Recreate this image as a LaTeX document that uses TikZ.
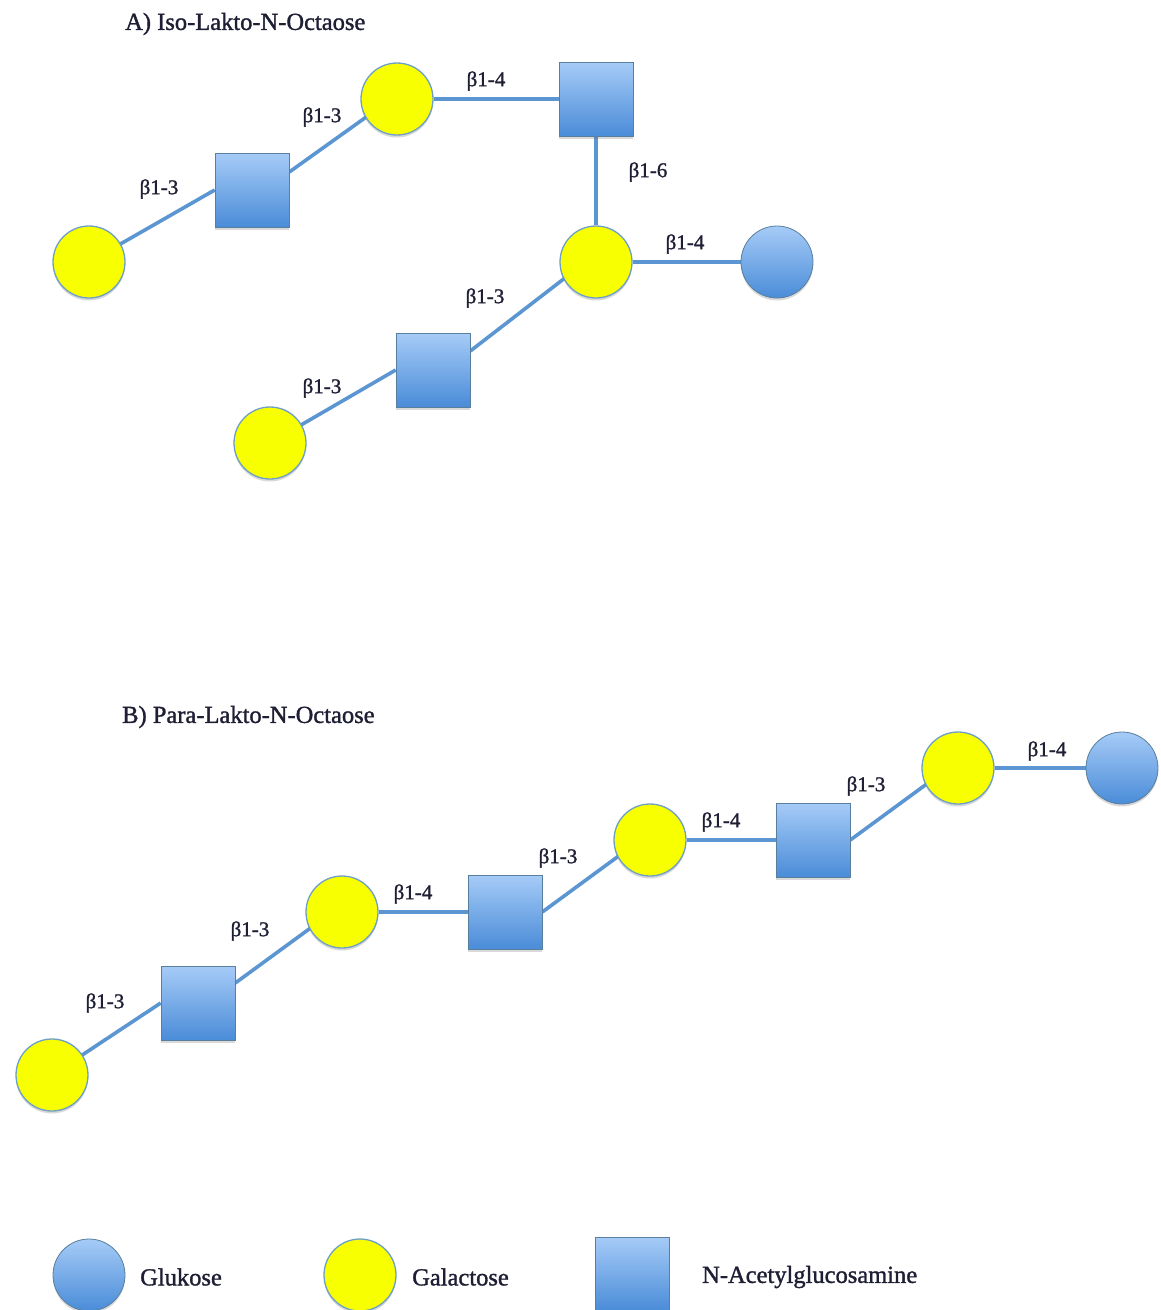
\documentclass[tikz,border=0pt]{standalone}
\usepackage{fontspec}
\setmainfont{Liberation Serif}
\newfontfamily\lblfont[FakeBold=1.3]{Liberation Serif}
\usetikzlibrary{shadows,calc}
\pgfdeclarelayer{links}
\pgfsetlayers{links,main}
\definecolor{linkblue}{HTML}{5B96D2}
\definecolor{glctop}{HTML}{A6CBF7}
\definecolor{glcbot}{HTML}{4A8CD8}
\definecolor{galfill}{HTML}{F7FF00}
\definecolor{rimcol}{HTML}{6E9FC6}
\definecolor{txt}{HTML}{1E1E34}
\tikzset{
  link/.style={draw=linkblue, line width=3.6pt},
  softshadow/.style={drop shadow={shadow xshift=0pt, shadow yshift=-2.5pt, opacity=0.25, fill=black!60}},
  gal/.style={circle, minimum size=72pt, inner sep=0pt, fill=galfill, draw=rimcol, line width=1.3pt, softshadow},
  glc/.style={circle, minimum size=72pt, inner sep=0pt, top color=glctop, bottom color=glcbot, draw=rimcol!80!black, line width=0.8pt, softshadow},
  glcnac/.style={rectangle, minimum size=74pt, inner sep=0pt, top color=glctop, bottom color=glcbot, draw=rimcol!80!black, line width=0.6pt, softshadow},
  bond/.style={font=\lblfont\fontsize{21}{24}\selectfont, text=txt, inner sep=0pt},
  heading/.style={font=\lblfont\fontsize{24.5}{28}\selectfont, text=txt, anchor=west, inner sep=0pt},
  legendtext/.style={font=\lblfont\fontsize{24.5}{28}\selectfont, text=txt, anchor=west, inner sep=0pt},
}
\begin{document}
\begin{tikzpicture}[x=1pt, y=-1pt]
\useasboundingbox (0,0) rectangle (1161,1310);
\clip (0,0) rectangle (1161,1310);

% ---------- A) Iso-Lakto-N-Octaose ----------
\node[heading] (titleA) at (125,24) {A) Iso-Lakto-N-Octaose};

\node[gal]    (a1) at (89,262)  {};
\node[glcnac] (a2) at (252,190) {};
\node[gal]    (a3) at (397,99)  {};
\node[glcnac] (a4) at (596,99)  {};
\node[gal]    (a5) at (596,262) {};
\node[glc]    (a6) at (777,262) {};
\node[glcnac] (a7) at (433,370) {};
\node[gal]    (a8) at (270,443) {};

\begin{pgfonlayer}{links}
  \draw[link] (a1.center) -- (a2.west);
  \draw[link] ($(a2.east)+(0,-18)$) -- ($(a3.center)+(0,-4)$);
  \draw[link] (a3) -- (a4);
  \draw[link] (a4) -- (a5);
  \draw[link] (a5) -- (a6);
  \draw[link] ($(a7.east)+(0,-19)$) -- ($(a5.center)+(0,-8)$);
  \draw[link] (a8.center) -- (a7.west);
\end{pgfonlayer}

\node[bond] (la1) at (159,189) {β1-3};
\node[bond] (la2) at (322,117) {β1-3};
\node[bond] (la3) at (486,81)  {β1-4};
\node[bond] (la4) at (648,172) {β1-6};
\node[bond] (la5) at (685,244) {β1-4};
\node[bond] (la6) at (485,298) {β1-3};
\node[bond] (la7) at (322,388) {β1-3};

% ---------- B) Para-Lakto-N-Octaose ----------
\node[heading] (titleB) at (122,717) {B) Para-Lakto-N-Octaose};

\node[gal]    (b1) at (52,1075)  {};
\node[glcnac] (b2) at (198,1003) {};
\node[gal]    (b3) at (342,912)  {};
\node[glcnac] (b4) at (505,912)  {};
\node[gal]    (b5) at (650,840)  {};
\node[glcnac] (b6) at (813,840)  {};
\node[gal]    (b7) at (958,768)  {};
\node[glc]    (b8) at (1122,768) {};

\begin{pgfonlayer}{links}
  \draw[link] (b1.center) -- (b2.west);
  \draw[link] ($(b2.east)+(0,-20)$) -- ($(b3.center)+(0,-7)$);
  \draw[link] (b3) -- (b4);
  \draw[link] (b4.east) -- ($(b5.center)+(0,-7)$);
  \draw[link] (b5) -- (b6);
  \draw[link] (b6.east) -- ($(b7.center)+(0,-7)$);
  \draw[link] (b7) -- (b8);
\end{pgfonlayer}

\node[bond] (lb1) at (105,1003) {β1-3};
\node[bond] (lb2) at (250,931)  {β1-3};
\node[bond] (lb3) at (413,894)  {β1-4};
\node[bond] (lb4) at (558,858)  {β1-3};
\node[bond] (lb5) at (721,822)  {β1-4};
\node[bond] (lb6) at (866,786)  {β1-3};
\node[bond] (lb7) at (1047,751) {β1-4};

% ---------- legend ----------
\node[glc]    (lg1) at (89,1275)  {};
\node[legendtext] (lt1) at (140,1277) {Glukose};
\node[gal]    (lg2) at (360,1275) {};
\node[legendtext] (lt2) at (412,1277) {Galactose};
\node[glcnac] (lg3) at (632,1274) {};
\node[legendtext] (lt3) at (702,1277) {N-Acetylglucosamine};
\end{tikzpicture}
\end{document}
